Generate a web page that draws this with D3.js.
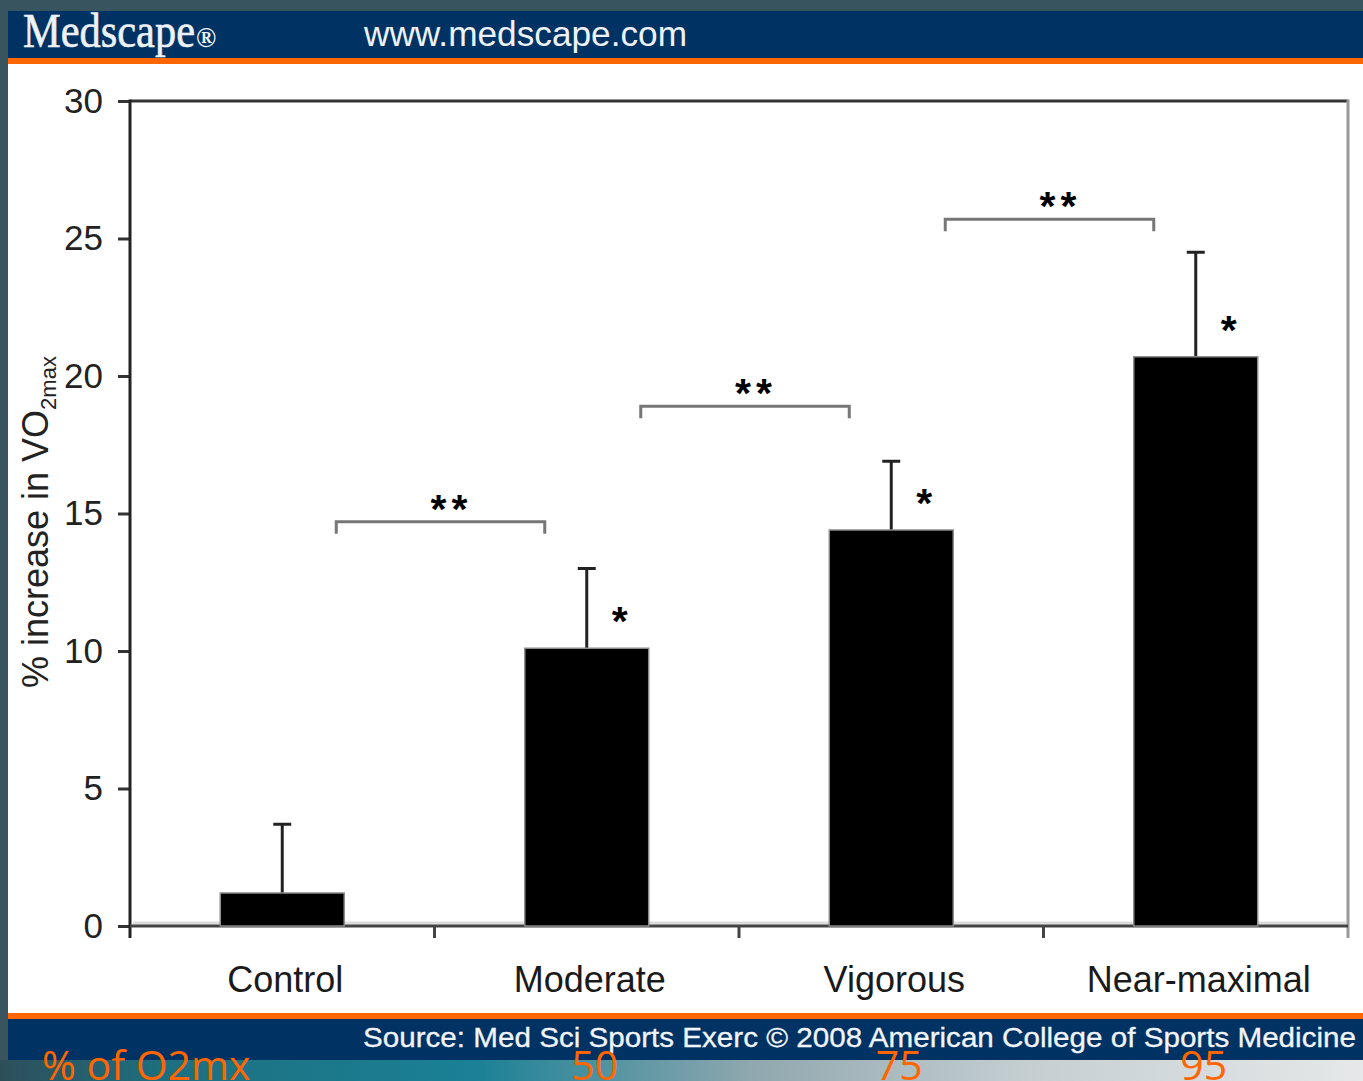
<!DOCTYPE html>
<html>
<head>
<meta charset="utf-8">
<script src="https://cdn.jsdelivr.net/npm/d3@7"></script>
<style>
  html, body { margin: 0; padding: 0; background: #37545f; overflow: hidden; }
  svg { display: block; }
</style>
</head>
<body>
<svg id="chart" width="1363" height="1081"></svg>
<script>
// Training groups and the mean % increase in VO2max for each
const categories = ["Control", "Moderate", "Vigorous", "Near-maximal"];
const meanIncrease = [1.2, 10.1, 14.4, 20.7];
// upper end of each error bar (mean + SD)
const errorUpper = [3.7, 13.0, 16.9, 24.5];
// groups that differ from control
const vsControl = [false, true, true, true];
const yTicks = [0, 5, 10, 15, 20, 25, 30];
// between-group comparisons: [from, to, bracket level]
const comparisonFrom = ["Control", "Moderate", "Vigorous"];
const comparisonTo = ["Moderate", "Vigorous", "Near-maximal"];
const comparisonLevel = [14.7, 18.9, 25.7];
// training intensity (% of VO2max) for each exercise group
const intensityGroups = ["Moderate", "Vigorous", "Near-maximal"];
const intensityLabels = ["50", "75", "95"];

const W = 1363, H = 1081;
const NAVY = "#013264", ORANGE = "#ff6600", SLATE = "#37545f";
const plot = { left: 130, right: 1348, top: 101, bottom: 926 };

const svg = d3.select("#chart");

// ---- frame: slide background, header and footer bands ----
const defs = svg.append("defs");
const grad = defs.append("linearGradient").attr("id", "floor").attr("x1", 0).attr("x2", 1).attr("y1", 0).attr("y2", 0);
[["0%", "#2e4f5a"], ["12%", "#1d6f80"], ["35%", "#1b8196"], ["55%", "#8fa7ae"], ["75%", "#c4ced1"], ["100%", "#e6e8e9"]]
  .forEach(([o, c]) => grad.append("stop").attr("offset", o).attr("stop-color", c));

svg.append("rect").attr("width", W).attr("height", H).attr("fill", SLATE);
svg.append("rect").attr("x", 0).attr("y", 1060).attr("width", W).attr("height", 21).attr("fill", "url(#floor)");
svg.append("rect").attr("x", 8).attr("y", 11).attr("width", W - 8).attr("height", 47).attr("fill", NAVY);
svg.append("rect").attr("x", 8).attr("y", 58).attr("width", W - 8).attr("height", 6).attr("fill", ORANGE);
svg.append("rect").attr("x", 8).attr("y", 64).attr("width", W - 8).attr("height", 949).attr("fill", "#ffffff");
svg.append("rect").attr("x", 8).attr("y", 1013).attr("width", W - 8).attr("height", 6).attr("fill", ORANGE);
svg.append("rect").attr("x", 8).attr("y", 1019).attr("width", W - 8).attr("height", 41).attr("fill", NAVY);

const logo = svg.append("text")
  .attr("x", 23).attr("y", 47)
  .attr("font-family", "'Liberation Serif', 'Times New Roman', serif")
  .attr("font-size", 48).attr("fill", "#eef2f7");
logo.append("tspan").text("Medscape")
  .attr("textLength", 172).attr("lengthAdjust", "spacingAndGlyphs")
  .attr("stroke", "#eef2f7").attr("stroke-width", 0.6);
logo.append("tspan").text("®").attr("font-size", 27).attr("font-weight", "bold").attr("dx", 1);

svg.append("text")
  .attr("x", 364).attr("y", 46)
  .attr("font-family", "'Liberation Sans', Arial, sans-serif")
  .attr("font-size", 35).attr("fill", "#eef2f7")
  .attr("textLength", 323).attr("lengthAdjust", "spacingAndGlyphs")
  .text("www.medscape.com");

svg.append("text")
  .attr("x", 363).attr("y", 1047)
  .attr("font-family", "'Liberation Sans', Arial, sans-serif")
  .attr("font-size", 27).attr("fill", "#f2f5f9")
  .attr("stroke", "#f2f5f9").attr("stroke-width", 0.3)
  .attr("textLength", 993).attr("lengthAdjust", "spacingAndGlyphs")
  .text("Source: Med Sci Sports Exerc © 2008 American College of Sports Medicine");

// ---- scales ----
const x = d3.scaleBand()
  .domain(categories)
  .range([plot.left, plot.right])
  .paddingInner(0.593)
  .paddingOuter(0.2965);
const y = d3.scaleLinear().domain([0, 30]).range([plot.bottom, plot.top]);
const cx = c => x(c) + x.bandwidth() / 2;

const FONT = "'Liberation Sans', Arial, sans-serif";
const g = svg.append("g");

// faint baseline strip beneath the bars
g.append("line")
  .attr("x1", plot.left + 3).attr("x2", plot.right - 2)
  .attr("y1", y(0) - 3).attr("y2", y(0) - 3)
  .attr("stroke", "#dcdcdc").attr("stroke-width", 3);

// ---- y axis ----
const yAxis = g.append("g")
  .attr("transform", `translate(${plot.left},0)`)
  .call(d3.axisLeft(y).tickValues(yTicks).tickSize(12).tickPadding(15).tickSizeOuter(0));
yAxis.select(".domain").remove();
yAxis.selectAll(".tick line").attr("stroke", "#333").attr("stroke-width", 3);
yAxis.selectAll(".tick text")
  .attr("font-family", FONT).attr("font-size", 35).attr("fill", "#222");

// plot frame: top, right, left
g.append("line").attr("x1", plot.left).attr("x2", plot.right)
  .attr("y1", y(30)).attr("y2", y(30)).attr("stroke", "#333").attr("stroke-width", 3);
g.append("line").attr("x1", plot.right).attr("x2", plot.right)
  .attr("y1", y(30) - 1.5).attr("y2", y(0) + 12).attr("stroke", "#9a9a9a").attr("stroke-width", 3);
g.append("line").attr("x1", plot.left).attr("x2", plot.left)
  .attr("y1", y(30) - 1.5).attr("y2", y(0) + 12).attr("stroke", "#222").attr("stroke-width", 3);

// ---- x axis ----
g.append("line").attr("x1", plot.left).attr("x2", plot.right)
  .attr("y1", y(0)).attr("y2", y(0)).attr("stroke", "#444").attr("stroke-width", 3);
const boundaries = d3.range(categories.length + 1).map(i => plot.left + i * x.step());
g.selectAll(".xtick").data(boundaries.slice(1, -1)).join("line")
  .attr("class", "xtick")
  .attr("x1", d => d).attr("x2", d => d)
  .attr("y1", y(0)).attr("y2", y(0) + 12)
  .attr("stroke", "#444").attr("stroke-width", 3);
g.selectAll(".xlabel").data(categories).join("text")
  .attr("class", "xlabel")
  .attr("x", d => cx(d) + 3).attr("y", 992)
  .attr("text-anchor", "middle")
  .attr("font-family", FONT).attr("font-size", 36).attr("fill", "#1a1a1a")
  .text(d => d);

// ---- y axis title ----
const yTitle = g.append("text")
  .attr("transform", "translate(48,688) rotate(-90)")
  .attr("font-family", FONT).attr("font-size", 36).attr("fill", "#222");
yTitle.append("tspan").text("% increase in VO");
yTitle.append("tspan").text("2max").attr("font-size", 22).attr("dy", 8);

// ---- bars ----
const rows = categories.map((c, i) => ({ c, v: meanIncrease[i], e: errorUpper[i], sig: vsControl[i] }));

g.selectAll(".errbar").data(rows).join("line")
  .attr("class", "errbar")
  .attr("x1", d => cx(d.c)).attr("x2", d => cx(d.c))
  .attr("y1", d => y(d.v)).attr("y2", d => y(d.e))
  .attr("stroke", "#222").attr("stroke-width", 3);
g.selectAll(".errcap").data(rows).join("line")
  .attr("class", "errcap")
  .attr("x1", d => cx(d.c) - 9).attr("x2", d => cx(d.c) + 9)
  .attr("y1", d => y(d.e)).attr("y2", d => y(d.e))
  .attr("stroke", "#222").attr("stroke-width", 3);

g.selectAll(".bar").data(rows).join("rect")
  .attr("class", "bar")
  .attr("x", d => x(d.c)).attr("y", d => y(d.v))
  .attr("width", x.bandwidth()).attr("height", d => y(0) - y(d.v))
  .attr("fill", "#000").attr("stroke", "#8a8a8a").attr("stroke-width", 1.5);

// single asterisks: difference from control
g.selectAll(".sig").data(rows.filter(d => d.sig)).join("text")
  .attr("class", "sig")
  .attr("x", d => cx(d.c) + 33).attr("y", d => y(d.v) - 13)
  .attr("text-anchor", "middle")
  .attr("font-family", FONT).attr("font-weight", "bold").attr("font-size", 41).attr("fill", "#000")
  .text("*");

// ---- comparison brackets ----
const brackets = comparisonFrom.map((f, i) => ({ f, t: comparisonTo[i], lvl: comparisonLevel[i] }));
const bx1 = d => cx(d.f) + 54, bx2 = d => cx(d.t) - 42;
g.selectAll(".bracket").data(brackets).join("path")
  .attr("class", "bracket")
  .attr("d", d => {
    const yy = y(d.lvl);
    return `M${bx1(d)},${yy + 12}V${yy}H${bx2(d)}V${yy + 12}`;
  })
  .attr("fill", "none").attr("stroke", "#777").attr("stroke-width", 3);
g.selectAll(".pair").data(brackets).join("text")
  .attr("class", "pair")
  .attr("x", d => (bx1(d) + bx2(d)) / 2 + 11).attr("y", d => y(d.lvl) + 1)
  .attr("text-anchor", "middle")
  .attr("letter-spacing", 5)
  .attr("font-family", FONT).attr("font-weight", "bold").attr("font-size", 41).attr("fill", "#000")
  .text("**");

// ---- training intensity annotations ----
const ann = svg.append("g")
  .attr("font-family", "'Open Sans', 'Noto Sans', sans-serif")
  .attr("font-size", 41).attr("fill", ORANGE);
ann.append("text").attr("x", 42).attr("y", 1080).text("% of O2mx");
ann.selectAll(".pct").data(intensityGroups).join("text")
  .attr("class", "pct")
  .attr("x", (d) => cx(d) + 8).attr("y", 1080)
  .attr("text-anchor", "middle")
  .text((d, i) => intensityLabels[i]);
</script>
</body>
</html>
